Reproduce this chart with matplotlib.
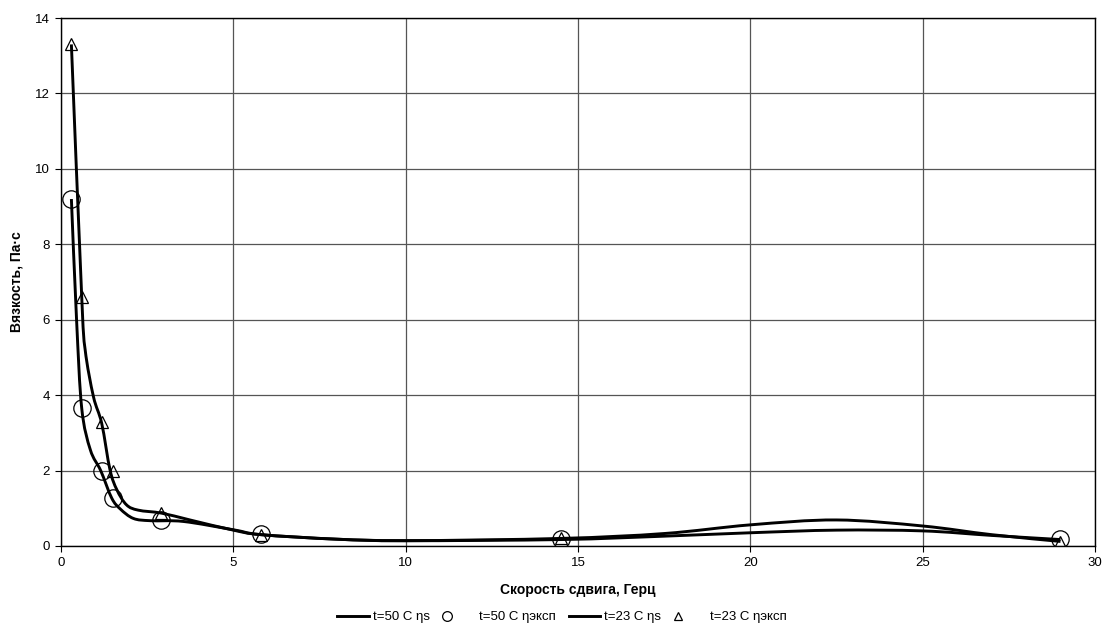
import matplotlib
matplotlib.use("Agg")
import matplotlib.pyplot as plt
import numpy as np
from matplotlib.path import Path
from matplotlib.patches import PathPatch
from matplotlib.lines import Line2D
from matplotlib.legend_handler import HandlerLine2D

plt.rcParams["font.family"] = ["Liberation Sans", "DejaVu Sans"]

# experimental points (shear rate, Hz / viscosity, Pa·s)
rate_exp = [0.3, 0.6, 1.2, 1.5, 2.9, 5.8, 14.5, 29.0]
eta_exp_50 = [9.2, 3.65, 2.0, 1.27, 0.7, 0.33, 0.18, 0.18]
eta_exp_23 = [13.3, 6.6, 3.3, 2.0, 0.87, 0.3, 0.2, 0.1]

# model curves ηs
rate_s_50 = [0.3, 0.45, 0.6, 0.85, 1.15, 1.47, 1.72, 2.1, 2.6, 3.55, 5.0, 5.8,
             8.0, 10.0, 14.5, 17.5, 20.0, 22.5, 25.0, 27.0, 29.0]
eta_s_50 = [9.2, 6.0, 3.65, 2.55, 2.0, 1.27, 0.98, 0.73, 0.67, 0.65, 0.43, 0.3,
            0.18, 0.14, 0.17, 0.26, 0.35, 0.42, 0.40, 0.28, 0.17]
rate_s_23 = [0.3, 0.6, 0.7, 0.94, 1.18, 1.42, 1.62, 1.9, 2.24, 2.92, 3.74, 5.0,
             5.8, 8.0, 10.0, 14.5, 17.5, 20.0, 22.5, 25.0, 27.0, 29.0]
eta_s_23 = [13.3, 6.6, 5.2, 3.96, 3.25, 2.02, 1.49, 1.09, 0.95, 0.87, 0.69, 0.42,
            0.3, 0.18, 0.14, 0.2, 0.33, 0.56, 0.69, 0.53, 0.3, 0.12]


def smooth_path(xs, ys):
    """Catmull-Rom style Bezier path through the points (like a 'smoothed line')."""
    p = np.column_stack([xs, ys]).astype(float)
    verts = [p[0]]
    codes = [Path.MOVETO]
    n = len(p)
    for i in range(n - 1):
        p0 = p[i - 1] if i > 0 else p[i]
        p1 = p[i]
        p2 = p[i + 1]
        p3 = p[i + 2] if i + 2 < n else p[i + 1]
        c1 = p1 + (p2 - p0) / 6.0
        c2 = p2 - (p3 - p1) / 6.0
        verts += [c1, c2, p2]
        codes += [Path.CURVE4] * 3
    return Path(verts, codes)


class MarkerAtLeft(HandlerLine2D):
    """Legend handler that puts a single marker near the left of the handle box."""

    def create_artists(self, legend, orig_handle, xdescent, ydescent,
                       width, height, fontsize, trans):
        mk = Line2D([width * 0.13 - xdescent], [(height - ydescent) / 2.0])
        self.update_prop(mk, orig_handle, legend)
        mk.set_transform(trans)
        return [mk]


fig = plt.figure(figsize=(11.04, 6.37), dpi=100)
ax = fig.add_axes([0.0553, 0.1429, 0.9365, 0.8288])

for xs, ys in [(rate_s_50, eta_s_50), (rate_s_23, eta_s_23)]:
    ax.add_patch(PathPatch(smooth_path(xs, ys), facecolor="none",
                           edgecolor="black", linewidth=2.1, zorder=3))

ax.plot(rate_exp, eta_exp_50, linestyle="none", marker="o", markersize=12.5,
        markerfacecolor="none", markeredgecolor="black", markeredgewidth=0.9,
        zorder=4)
ax.plot(rate_exp, eta_exp_23, linestyle="none", marker="^", markersize=8,
        markerfacecolor="none", markeredgecolor="black", markeredgewidth=0.9,
        zorder=4)

ax.set_xlim(0, 30)
ax.set_ylim(0, 14)
ax.set_xticks(range(0, 31, 5))
ax.set_yticks(range(0, 15, 2))
ax.grid(True, color="#555555", linewidth=0.9)
ax.set_axisbelow(True)
for s in ax.spines.values():
    s.set_color("black")
    s.set_linewidth(1.0)
ax.tick_params(labelsize=9.5, length=4.5, width=0.8, color="black")

ax.set_xlabel("Скорость сдвига, Герц", fontsize=10, fontweight="bold", labelpad=10)
ax.set_ylabel("Вязкость, Па·с", fontsize=10, fontweight="bold", labelpad=8)

line_50 = Line2D([], [], color="black", linewidth=2.1)
circ_50 = Line2D([], [], linestyle="none", marker="o", markersize=7,
                 markerfacecolor="none", markeredgecolor="black", markeredgewidth=0.9)
line_23 = Line2D([], [], color="black", linewidth=2.1)
tri_23 = Line2D([], [], linestyle="none", marker="^", markersize=6,
                markerfacecolor="none", markeredgecolor="black", markeredgewidth=0.9)
labels = ["t=50 C ηs", "t=50 C ηэксп", "t=23 C ηs", "t=23 C ηэксп"]
fig.legend([line_50, circ_50, line_23, tri_23], labels,
           handler_map={circ_50: MarkerAtLeft(), tri_23: MarkerAtLeft()},
           loc="center", bbox_to_anchor=(0.509, 0.031),
           ncol=4, frameon=False, fontsize=9.5, handlelength=2.4,
           handletextpad=0.3, columnspacing=1.0)

fig.savefig("out.png", dpi=100)
